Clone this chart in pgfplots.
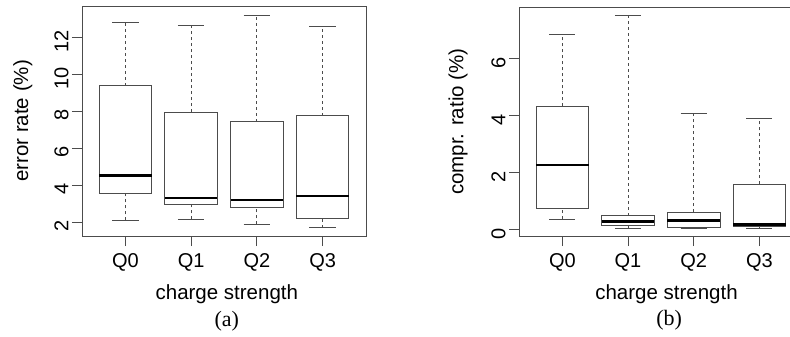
\documentclass[border=0pt]{standalone}
\usepackage{fontspec}
\setmainfont{Liberation Sans}
\newfontfamily\seriffont{Liberation Serif}
\usepackage{pgfplots}
\usepgfplotslibrary{statistics}
\pgfplotsset{compat=1.18}
\pgfplotsset{
  rbox/.style={
    scale only axis,
    xmin=0.34, xmax=4.66,
    xtick={1,2,3,4},
    xticklabels={Q0,Q1,Q2,Q3},
    xtick pos=left, ytick pos=left,
    tick align=outside,
    major tick length=10pt,
    axis line style={draw=black!70, line width=0.9pt},
    every tick/.style={draw=black!70, line width=0.9pt},
    /pgf/number format/assume math mode=true,
    tick label style={font=\fontsize{20}{22}\selectfont},
    xticklabel style={yshift=-4pt},
    yticklabel style={rotate=90, anchor=south, xshift=-4pt},
    label style={font=\fontsize{20.5}{22}\selectfont},
    xlabel={charge strength},
    boxplot/draw direction=y,
    boxplot/box extend=0.8,
    boxplot/whisker extend=0.4,
    boxplot/every box/.style={draw=black!70, line width=0.9pt},
    boxplot/every median/.style={draw=black, line width=2.6pt},
    boxplot/every whisker/.style={draw=black!70, line width=0.9pt},
    boxplot/draw/lower whisker/.code={%
      \draw[/pgfplots/boxplot/every whisker/.try, dash pattern=on 3pt off 3pt]
        (boxplot box cs:\pgfplotsboxplotvalue{lower whisker},0.5) --
        (boxplot box cs:\pgfplotsboxplotvalue{lower quartile},0.5);
      \draw[/pgfplots/boxplot/every whisker/.try]
        (boxplot whisker cs:\pgfplotsboxplotvalue{lower whisker},0) --
        (boxplot whisker cs:\pgfplotsboxplotvalue{lower whisker},1);
    },
    boxplot/draw/upper whisker/.code={%
      \draw[/pgfplots/boxplot/every whisker/.try, dash pattern=on 3pt off 3pt]
        (boxplot box cs:\pgfplotsboxplotvalue{upper quartile},0.5) --
        (boxplot box cs:\pgfplotsboxplotvalue{upper whisker},0.5);
      \draw[/pgfplots/boxplot/every whisker/.try]
        (boxplot whisker cs:\pgfplotsboxplotvalue{upper whisker},0) --
        (boxplot whisker cs:\pgfplotsboxplotvalue{upper whisker},1);
    },
  }
}
\begin{document}
\begin{tikzpicture}
\useasboundingbox (0,0) rectangle (790pt,-337pt);
\clip (0,0) rectangle (790pt,-337pt);
% ---------------- (a) ----------------
\begin{axis}[rbox,
  at={(82pt,-236pt)}, anchor=south west,
  width=284pt, height=230pt,
  ymin=1.26, ymax=13.69,
  ytick={2,4,6,8,10,12},
  ylabel={error rate (\%)},
  ylabel style={at={(axis description cs:-0.208,0.5)}, anchor=center, rotate=0},
  xlabel style={at={(axis description cs:0.51,-0.252)}, anchor=center},
  clip=false]
\addplot[black!70, boxplot prepared={draw position=1,
  lower whisker=2.11, lower quartile=3.58, median=4.52,
  upper quartile=9.37, upper whisker=12.81}] coordinates {};
\addplot[black!70, boxplot prepared={draw position=2,
  lower whisker=2.16, lower quartile=2.95, median=3.31,
  upper quartile=7.95, upper whisker=12.63}] coordinates {};
\addplot[black!70, boxplot prepared={draw position=3,
  lower whisker=1.89, lower quartile=2.79, median=3.21,
  upper quartile=7.44, upper whisker=13.20}] coordinates {};
\addplot[black!70, boxplot prepared={draw position=4,
  lower whisker=1.71, lower quartile=2.20, median=3.42,
  upper quartile=7.76, upper whisker=12.61}] coordinates {};
\node[font=\seriffont\fontsize{22}{24}\selectfont] at (axis description cs:0.51,-0.37) {(a)};
\end{axis}
% ---------------- (b) ----------------
\begin{axis}[rbox,
  at={(519pt,-236pt)}, anchor=south west,
  width=283.7pt, height=228.7pt,
  ymin=-0.22, ymax=7.81,
  ytick={0,2,4,6},
  ylabel={compr. ratio (\%)},
  ylabel style={at={(axis description cs:-0.215,0.5)}, anchor=center, rotate=0},
  xlabel style={at={(axis description cs:0.52,-0.254)}, anchor=center},
  clip=false]
\addplot[black!70, boxplot prepared={draw position=1,
  lower whisker=0.375, lower quartile=0.73, median=2.28,
  upper quartile=4.33, upper whisker=6.84}] coordinates {};
\addplot[black!70, boxplot prepared={draw position=2,
  lower whisker=0.06, lower quartile=0.16, median=0.29,
  upper quartile=0.49, upper whisker=7.52}] coordinates {};
\addplot[black!70, boxplot prepared={draw position=3,
  lower whisker=0.06, lower quartile=0.09, median=0.33,
  upper quartile=0.62, upper whisker=4.08}] coordinates {};
\addplot[black!70, boxplot prepared={draw position=4,
  lower whisker=0.06, lower quartile=0.10, median=0.18,
  upper quartile=1.59, upper whisker=3.92}] coordinates {};
\node[font=\seriffont\fontsize{22}{24}\selectfont] at (axis description cs:0.529,-0.37) {(b)};
\end{axis}
\end{tikzpicture}
\end{document}
